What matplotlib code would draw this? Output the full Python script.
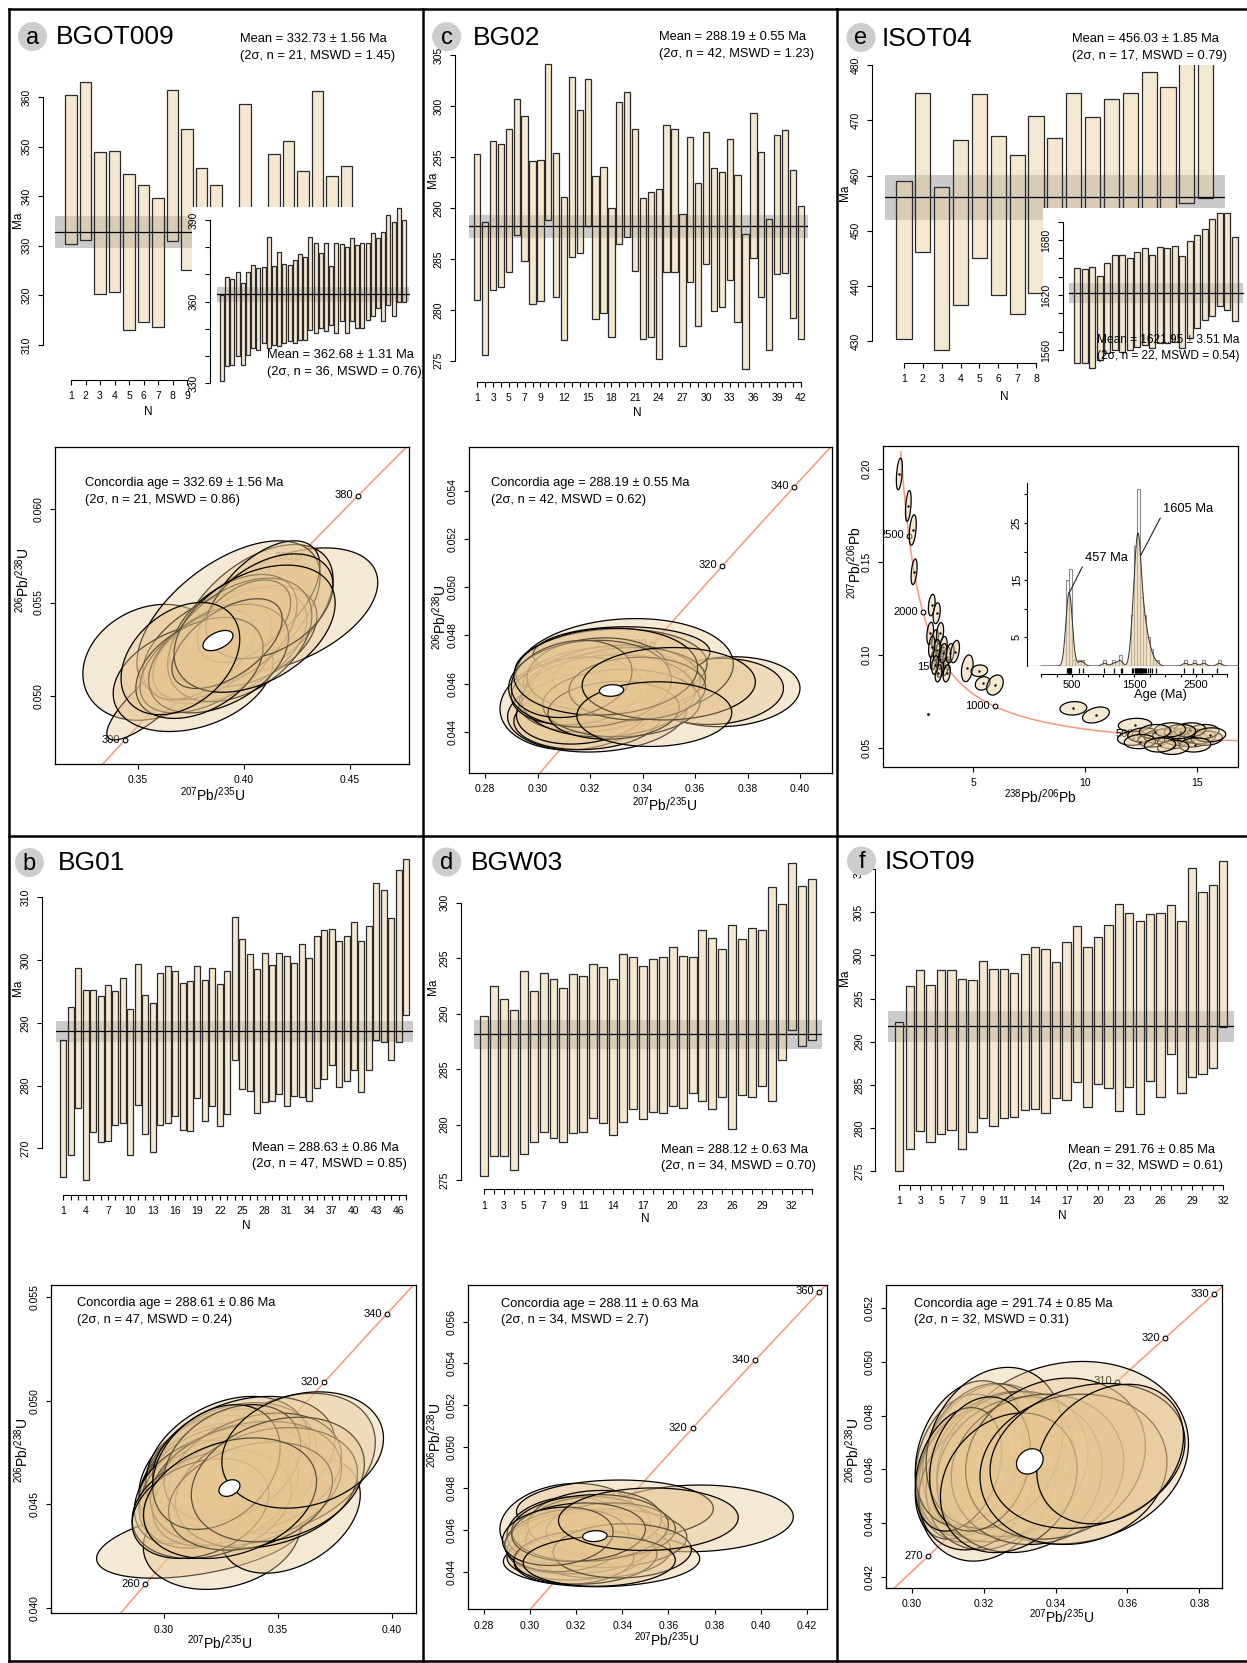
import numpy as np
import matplotlib
matplotlib.use("Agg")
import matplotlib.pyplot as plt
from matplotlib.patches import Circle, Polygon
from matplotlib.lines import Line2D
from matplotlib.transforms import offset_copy

plt.rcParams["font.family"] = ["Liberation Sans", "DejaVu Sans"]
plt.rcParams["mathtext.fontset"] = "custom"
plt.rcParams["mathtext.rm"] = "Liberation Sans"
plt.rcParams["mathtext.it"] = "Liberation Sans:italic"

W, H = 1247, 1663

# ---------------- weighted-mean bars (2 sigma limits, Ma) ----------------
A_TOP = [360.5, 363.0, 348.9, 349.1, 344.4, 342.2, 339.6, 361.4, 353.5, 345.7, 342.2,
         336.0, 358.5, 335.0, 348.6, 351.2, 345.0, 361.3, 344.1, 346.0, 337.0]
A_BOT = [330.3, 331.1, 320.3, 320.7, 313.0, 314.6, 313.7, 330.9, 325.2, 318.0, 316.0,
         308.0, 330.0, 305.0, 322.0, 324.0, 320.0, 334.0, 318.0, 320.0, 310.0]
A_MEAN, A_HALF = 332.73, 3.2

A2_TOP = [362.4, 369.2, 368.2, 370.7, 366.7, 371.0, 373.5, 372.2, 372.6, 383.6, 372.9, 378.1,
          373.8, 373.5, 375.3, 377.5, 376.5, 383.9, 381.4, 378.0, 381.4, 373.1, 381.7, 381.1,
          380.0, 383.3, 380.8, 381.7, 381.4, 385.1, 383.3, 385.7, 391.8, 389.4, 394.3, 390.0]
A2_BOT = [330.6, 336.1, 336.7, 339.8, 336.7, 340.4, 342.9, 342.2, 344.7, 342.9, 344.1, 343.5,
          344.7, 345.3, 344.7, 345.9, 345.9, 349.6, 348.4, 350.2, 349.0, 351.4, 348.4, 352.7,
          348.4, 352.7, 350.2, 350.2, 353.3, 354.5, 357.6, 352.7, 358.8, 354.5, 360.0, 360.0]
A2_MEAN, A2_HALF = 362.68, 2.7

C_TOP = [295.3, 288.6, 296.6, 296.3, 297.7, 300.7, 299.0, 294.6, 294.7, 304.1, 295.4, 291.1,
         302.8, 299.6, 302.6, 293.1, 294.0, 290.0, 300.4, 301.4, 297.7, 291.0, 291.6, 291.9,
         298.1, 297.7, 289.4, 297.0, 292.4, 297.4, 293.9, 293.5, 296.8, 293.2, 287.4, 299.3,
         295.5, 288.9, 297.2, 297.6, 293.7, 290.2]
C_BOT = [281.0, 275.6, 281.9, 282.2, 283.7, 287.3, 284.8, 280.6, 280.9, 288.8, 281.3, 277.0,
         285.2, 285.6, 288.2, 279.1, 279.7, 277.3, 286.5, 287.1, 283.8, 277.1, 277.3, 275.2,
         283.7, 283.7, 276.5, 282.7, 278.4, 284.5, 279.9, 280.3, 282.9, 278.8, 274.2, 285.1,
         281.3, 276.1, 283.5, 283.6, 279.2, 277.1]
C_MEAN, C_HALF = 288.19, 1.1

E_TOP = [459.1, 474.9, 457.9, 466.4, 474.7, 467.1, 463.8, 470.7, 466.8, 475.0, 470.6,
         473.8, 475.0, 478.7, 476.0, 483.0, 484.0]
E_BOT = [430.5, 446.1, 428.5, 436.6, 445.1, 438.4, 435.0, 438.7, 440.0, 448.0, 445.0,
         448.0, 450.0, 453.0, 451.0, 455.0, 456.0]
E_MEAN, E_HALF = 456.03, 4.0

E2_TOP = [1649.1, 1648.0, 1650.9, 1640.7, 1655.3, 1663.6, 1663.6, 1660.0, 1667.3, 1670.9, 1663.6,
          1672.7, 1670.9, 1673.5, 1662.5, 1679.3, 1685.1, 1692.4, 1702.9, 1709.8, 1709.1, 1682.9]
E2_BOT = [1546.2, 1545.5, 1540.0, 1549.0, 1556.4, 1560.0, 1558.2, 1560.0, 1563.6, 1565.5, 1561.8,
          1567.3, 1567.3, 1569.1, 1561.8, 1572.7, 1583.6, 1592.7, 1597.1, 1608.0, 1603.6, 1591.6]
E2_MEAN, E2_HALF = 1621.95, 11.0

B_TOP = [287.2, 292.5, 298.8, 295.3, 295.3, 294.3, 296.0, 295.0, 297.1, 292.2, 299.4, 294.4,
         293.1, 298.0, 299.0, 298.2, 296.4, 296.6, 299.1, 296.9, 298.8, 296.2, 298.2, 306.9,
         303.3, 300.9, 298.5, 301.2, 299.2, 301.2, 300.6, 299.6, 302.6, 300.3, 303.9, 304.8,
         304.9, 303.0, 303.8, 306.0, 303.0, 305.5, 312.2, 311.1, 306.7, 314.4, 316.1]
B_BOT = [265.4, 268.9, 276.4, 265.0, 272.6, 271.0, 271.2, 273.7, 274.1, 268.9, 276.9, 272.2,
         269.4, 273.7, 274.0, 275.2, 272.9, 272.7, 278.0, 274.4, 276.8, 273.6, 275.5, 284.1,
         279.5, 279.2, 275.6, 277.4, 277.6, 278.7, 276.8, 278.4, 278.2, 277.6, 279.6, 281.0,
         283.2, 279.8, 280.7, 282.5, 279.0, 282.5, 287.2, 287.0, 284.0, 286.9, 291.2]
B_MEAN, B_HALF = 288.63, 1.7

D_TOP = [289.8, 292.5, 291.3, 290.3, 293.8, 292.0, 293.7, 293.1, 292.3, 293.6, 293.4, 294.5,
         294.2, 293.1, 295.4, 295.1, 294.3, 294.9, 295.1, 296.0, 295.2, 295.1, 297.5, 296.8,
         295.8, 298.0, 296.7, 297.7, 297.5, 301.4, 299.9, 303.6, 301.5, 302.1]
D_BOT = [275.4, 277.2, 277.2, 275.9, 277.3, 278.4, 279.3, 278.8, 278.4, 279.2, 279.3, 280.6,
         280.1, 279.1, 280.2, 281.4, 280.5, 281.1, 281.0, 281.7, 281.5, 282.8, 282.1, 281.4,
         282.5, 279.6, 282.7, 282.5, 283.5, 282.1, 285.8, 288.5, 287.1, 287.6]
D_MEAN, D_HALF = 288.12, 1.3

F_TOP = [292.3, 296.4, 298.3, 296.6, 298.3, 298.3, 297.3, 297.1, 299.4, 298.4, 298.4, 298.0,
         300.2, 301.0, 300.8, 299.2, 301.6, 303.4, 301.0, 302.1, 303.5, 306.0, 304.9, 304.0,
         304.8, 304.9, 305.9, 304.0, 310.1, 307.4, 308.2, 311.0]
F_BOT = [275.0, 277.6, 279.6, 278.4, 279.3, 279.7, 277.6, 279.5, 281.1, 280.2, 281.1, 281.3,
         282.1, 282.2, 281.7, 283.5, 283.2, 285.3, 282.4, 285.1, 284.6, 282.0, 284.7, 281.6,
         285.4, 283.6, 288.6, 284.0, 285.9, 286.3, 286.9, 291.7]
F_MEAN, F_HALF = 291.76, 1.75

# ---------------- concordia ellipses: (x, sx, y, sy, rho) ----------------
A_ELL = [(0.4181, 0.0450, 0.05457, 0.00335, 0.45), (0.4059, 0.0361, 0.0544, 0.0037, 0.5),
         (0.3563, 0.0323, 0.0518, 0.0031, 0.2), (0.3589, 0.0236, 0.05005, 0.0024, 0.85),
         (0.3927, 0.0432, 0.0541, 0.0042, 0.55), (0.3910, 0.0387, 0.0527, 0.0031, 0.45),
         (0.3760, 0.0377, 0.0510, 0.0029, 0.3), (0.3832, 0.0323, 0.0519, 0.0028, 0.5),
         (0.4028, 0.0316, 0.0532, 0.0027, 0.4), (0.4091, 0.0267, 0.0553, 0.0030, 0.55),
         (0.3850, 0.0280, 0.0524, 0.0026, 0.5), (0.3950, 0.0300, 0.0535, 0.0030, 0.45),
         (0.3800, 0.0250, 0.0522, 0.0024, 0.55), (0.3980, 0.0340, 0.0530, 0.0033, 0.4),
         (0.4000, 0.0220, 0.0540, 0.0022, 0.45), (0.3880, 0.0330, 0.0520, 0.0029, 0.4),
         (0.4120, 0.0300, 0.0548, 0.0028, 0.4), (0.3790, 0.0300, 0.0515, 0.0027, 0.4),
         (0.3920, 0.0260, 0.0528, 0.0024, 0.55), (0.4050, 0.0380, 0.0536, 0.0034, 0.4),
         (0.3700, 0.0280, 0.0520, 0.0030, 0.35)]
C_ELL = [(0.3720, 0.0280, 0.04567, 0.00145, 0.1), (0.3677, 0.0260, 0.04568, 0.00137, 0.1),
         (0.3333, 0.0413, 0.04660, 0.00210, 0.1), (0.3162, 0.0305, 0.04526, 0.00200, 0.15),
         (0.3280, 0.0366, 0.04667, 0.00160, 0.1), (0.3257, 0.0311, 0.04615, 0.00138, 0.1),
         (0.3227, 0.0341, 0.04480, 0.00163, 0.1), (0.3320, 0.0337, 0.04726, 0.00110, 0.05),
         (0.3190, 0.0280, 0.04457, 0.00130, 0.1), (0.3250, 0.0300, 0.04580, 0.00150, 0.1),
         (0.3210, 0.0280, 0.04540, 0.00140, 0.15), (0.3300, 0.0320, 0.04600, 0.00160, 0.1),
         (0.3180, 0.0260, 0.04500, 0.00150, 0.2), (0.3350, 0.0290, 0.04620, 0.00130, 0.05),
         (0.3270, 0.0330, 0.04550, 0.00170, 0.1), (0.3150, 0.0250, 0.04570, 0.00140, 0.15),
         (0.3230, 0.0270, 0.04640, 0.00150, 0.1), (0.3320, 0.0300, 0.04520, 0.00140, 0.05),
         (0.3200, 0.0310, 0.04600, 0.00180, 0.1), (0.3290, 0.0250, 0.04490, 0.00120, 0.1),
         (0.3380, 0.0260, 0.04580, 0.00130, 0.05), (0.3130, 0.0230, 0.04620, 0.00160, 0.2),
         (0.3260, 0.0350, 0.04650, 0.00180, 0.1), (0.3500, 0.0330, 0.04600, 0.00150, 0.05),
         (0.3445, 0.0295, 0.04474, 0.00134, 0.05)]
B_ELL = [(0.3155, 0.0451, 0.04317, 0.00172, 0.45), (0.3254, 0.0345, 0.04346, 0.00255, 0.2),
         (0.3554, 0.0308, 0.04449, 0.00280, 0.35), (0.3536, 0.0392, 0.04698, 0.00337, 0.3),
         (0.3200, 0.0310, 0.04640, 0.00290, 0.3), (0.3250, 0.0340, 0.04660, 0.00300, 0.3),
         (0.3180, 0.0290, 0.04620, 0.00270, 0.35), (0.3300, 0.0370, 0.04680, 0.00310, 0.28),
         (0.3220, 0.0330, 0.04600, 0.00280, 0.3), (0.3150, 0.0260, 0.04580, 0.00260, 0.4),
         (0.3280, 0.0360, 0.04700, 0.00320, 0.3), (0.3350, 0.0400, 0.04720, 0.00300, 0.28),
         (0.3120, 0.0250, 0.04560, 0.00250, 0.35), (0.3240, 0.0300, 0.04590, 0.00240, 0.3),
         (0.3310, 0.0350, 0.04610, 0.00270, 0.25), (0.3190, 0.0280, 0.04520, 0.00230, 0.3),
         (0.3400, 0.0380, 0.04650, 0.00290, 0.28), (0.3270, 0.0320, 0.04560, 0.00260, 0.35),
         (0.3360, 0.0420, 0.04600, 0.00300, 0.25), (0.3210, 0.0350, 0.04500, 0.00260, 0.28),
         (0.3300, 0.0300, 0.04700, 0.00280, 0.3), (0.3450, 0.0400, 0.04580, 0.00290, 0.25),
         (0.3160, 0.0300, 0.04480, 0.00240, 0.3), (0.3380, 0.0360, 0.04540, 0.00260, 0.28),
         (0.3230, 0.0280, 0.04680, 0.00300, 0.3), (0.3500, 0.0380, 0.04620, 0.00300, 0.25),
         (0.3290, 0.0380, 0.04530, 0.00290, 0.28), (0.3609, 0.0355, 0.04762, 0.00280, 0.2)]
D_ELL = [(0.3715, 0.0427, 0.04656, 0.00160, 0.05), (0.3310, 0.0426, 0.04456, 0.00128, 0.05),
         (0.3173, 0.0304, 0.04624, 0.00200, 0.1), (0.3368, 0.0427, 0.04696, 0.00144, 0.05),
         (0.3230, 0.0300, 0.04560, 0.00140, 0.1), (0.3180, 0.0280, 0.04520, 0.00130, 0.15),
         (0.3270, 0.0320, 0.04580, 0.00150, 0.1), (0.3200, 0.0300, 0.04480, 0.00120, 0.1),
         (0.3300, 0.0310, 0.04500, 0.00130, 0.05), (0.3150, 0.0250, 0.04600, 0.00160, 0.15),
         (0.3250, 0.0270, 0.04620, 0.00140, 0.1), (0.3220, 0.0330, 0.04540, 0.00150, 0.1),
         (0.3330, 0.0350, 0.04560, 0.00140, 0.05), (0.3190, 0.0260, 0.04460, 0.00120, 0.1),
         (0.3280, 0.0290, 0.04640, 0.00150, 0.1), (0.3350, 0.0280, 0.04600, 0.00130, 0.05),
         (0.3160, 0.0270, 0.04550, 0.00150, 0.15), (0.3240, 0.0310, 0.04470, 0.00130, 0.1),
         (0.3260, 0.0340, 0.04610, 0.00160, 0.1), (0.3400, 0.0300, 0.04500, 0.00130, 0.05),
         (0.3210, 0.0290, 0.04590, 0.00140, 0.1), (0.3120, 0.0240, 0.04570, 0.00140, 0.15),
         (0.3300, 0.0330, 0.04450, 0.00120, 0.05), (0.3513, 0.0390, 0.04652, 0.00150, 0.05)]
F_ELL = [(0.3211, 0.0197, 0.04588, 0.0033, 0.2), (0.3443, 0.0327, 0.04662, 0.0034, 0.1),
         (0.3186, 0.0172, 0.04578, 0.0025, 0.2), (0.3150, 0.0140, 0.04620, 0.0026, 0.2),
         (0.3170, 0.0150, 0.04600, 0.0025, 0.25), (0.3200, 0.0170, 0.04640, 0.0028, 0.2),
         (0.3140, 0.0130, 0.04580, 0.0024, 0.3), (0.3220, 0.0180, 0.04560, 0.0026, 0.15),
         (0.3250, 0.0200, 0.04610, 0.0028, 0.2), (0.3180, 0.0160, 0.04540, 0.0024, 0.2),
         (0.3280, 0.0210, 0.04620, 0.0027, 0.15), (0.3160, 0.0150, 0.04660, 0.0027, 0.25),
         (0.3300, 0.0230, 0.04580, 0.0029, 0.1), (0.3230, 0.0190, 0.04680, 0.0030, 0.2),
         (0.3350, 0.0240, 0.04600, 0.0028, 0.1), (0.3130, 0.0120, 0.04600, 0.0023, 0.3),
         (0.3400, 0.0250, 0.04640, 0.0030, 0.15), (0.3190, 0.0140, 0.04620, 0.0025, 0.2),
         (0.3270, 0.0190, 0.04550, 0.0026, 0.2), (0.3450, 0.0260, 0.04600, 0.0028, 0.1),
         (0.3489, 0.0271, 0.04650, 0.0027, 0.2), (0.3552, 0.0204, 0.04657, 0.0026, 0.25)]
# white concordia-age ellipses: (age Ma, sx, sy, rho)
A_CA = (332.69, 0.0071, 0.00054, 0.5)
C_CA = (288.19, 0.0046, 0.00024, 0.1)
B_CA = (288.61, 0.0046, 0.00040, 0.3)
D_CA = (288.11, 0.0053, 0.00026, 0.1)
F_CA = (291.74, 0.0037, 0.00047, 0.2)

# Tera-Wasserburg ellipses (238/206, s, 207/206, s, rho)
E_ELL = [(1.69, 0.134, 0.1975, 0.0085, 0.4), (2.09, 0.127, 0.1803, 0.0083, 0.4),
         (2.29, 0.157, 0.1674, 0.0082, 0.4), (2.35, 0.134, 0.1449, 0.0069, 0.4),
         (3.14, 0.15, 0.1270, 0.0058, 0.3), (3.36, 0.16, 0.1226, 0.0056, 0.3),
         (3.07, 0.15, 0.1118, 0.0060, 0.3), (3.29, 0.15, 0.1082, 0.0055, 0.3),
         (3.51, 0.16, 0.1118, 0.0058, 0.3), (3.66, 0.17, 0.1046, 0.0055, 0.3),
         (3.44, 0.15, 0.1011, 0.0054, 0.3), (3.22, 0.14, 0.0975, 0.0052, 0.3),
         (3.59, 0.16, 0.0975, 0.0050, 0.3), (3.81, 0.17, 0.0993, 0.0050, 0.3),
         (3.73, 0.16, 0.0939, 0.0048, 0.3), (3.51, 0.15, 0.0930, 0.0048, 0.3),
         (3.96, 0.18, 0.1011, 0.0052, 0.3), (4.18, 0.20, 0.1020, 0.0060, 0.4),
         (3.36, 0.15, 0.1029, 0.0055, 0.3), (3.14, 0.14, 0.1046, 0.0057, 0.3),
         (3.81, 0.16, 0.0903, 0.0046, 0.3), (3.44, 0.15, 0.0903, 0.0046, 0.3),
         (3.66, 0.16, 0.1011, 0.0052, 0.3), (3.29, 0.15, 0.0948, 0.0050, 0.3),
         (4.73, 0.26, 0.0930, 0.0072, 0.3), (5.27, 0.37, 0.0917, 0.0031, 0.1),
         (5.42, 0.33, 0.0849, 0.0036, 0.2), (5.97, 0.37, 0.0840, 0.0054, 0.3),
         (9.48, 0.60, 0.0715, 0.0036, 0.1), (10.49, 0.60, 0.0679, 0.0043, 0.35),
         (12.24, 0.75, 0.0625, 0.0036, 0.1), (12.16, 0.70, 0.0554, 0.0038, 0.1),
         (12.61, 0.70, 0.0572, 0.0038, 0.1), (13.06, 0.70, 0.0545, 0.0038, 0.1),
         (13.36, 0.70, 0.0563, 0.0038, 0.1), (13.73, 0.70, 0.0572, 0.0038, 0.1),
         (13.95, 0.70, 0.0536, 0.0038, 0.1), (14.25, 0.70, 0.0554, 0.0038, 0.1),
         (14.55, 0.70, 0.0572, 0.0038, 0.1), (14.85, 0.70, 0.0545, 0.0038, 0.1),
         (15.15, 0.70, 0.0563, 0.0038, 0.1), (15.45, 0.70, 0.0554, 0.0038, 0.1),
         (15.30, 0.70, 0.0590, 0.0038, 0.1), (14.70, 0.70, 0.0599, 0.0038, 0.1),
         (14.25, 0.70, 0.0590, 0.0038, 0.1), (13.80, 0.70, 0.0599, 0.0038, 0.1),
         (13.13, 0.70, 0.0590, 0.0038, 0.1), (12.46, 0.70, 0.0536, 0.0038, 0.1),
         (15.60, 0.70, 0.0572, 0.0038, 0.1), (14.93, 0.70, 0.0518, 0.0038, 0.1),
         (13.95, 0.70, 0.0505, 0.0038, 0.1), (13.36, 0.70, 0.0518, 0.0038, 0.1)]
E_LONE = (2.96, 0.0683)

# detrital age histogram (bin left edge, count) and rug
KDE_BW = 50
KDE_LEFT = [400, 450, 500, 600, 650, 1000, 1150, 1250, 1450, 1500, 1550, 1600, 1650,
            1700, 1750, 1800, 1850, 2300, 2450, 2600, 2850]
KDE_COUNT = [15, 17, 1, 1, 1, 1, 1, 2, 9, 21, 31, 12, 9, 5, 3, 1, 1, 1, 1, 1, 1]
RUG_AGES = [425, 435, 440, 445, 450, 455, 458, 462, 466, 470, 475, 480, 610, 680, 1010, 1170,
            1290, 1310, 1470, 1490, 1510, 1520, 1530, 1540, 1550, 1560, 1570, 1580, 1590,
            1600, 1610, 1620, 1635, 1650, 1665, 1680, 1700, 1720, 1750, 1790, 1860, 2300,
            2450, 2600, 2840]
PEAKS = [457, 1605]

BAR_FC = (0.914, 0.808, 0.624, 0.45)
BAR_EC = "#2a2a2a"
BAND_C = "#cbcbcb"
ELL_FC = (0.90, 0.78, 0.58, 0.40)
CONC_C = "#f7987c"
L238, L235 = 1.55125e-4, 9.8485e-4


def pax(fig, box, **kw):
    l, t, r, b = box
    return fig.add_axes([l / W, 1 - b / H, (r - l) / W, (b - t) / H], **kw)


def lin(cal, pa, pb):
    p0, v0, p1, v1 = cal
    s = (v1 - v0) / (p1 - p0)
    return v0 + (pa - p0) * s, v0 + (pb - p0) * s


def ftext(fig, x, y, s, **kw):
    kw.setdefault("ha", "center")
    kw.setdefault("va", "center")
    kw.setdefault("zorder", 10)
    fig.text(x / W, 1 - y / H, s, **kw)


def ell_pts(x, sx, y, sy, rho, n=120):
    cov = np.array([[sx * sx, rho * sx * sy], [rho * sx * sy, sy * sy]])
    low = np.linalg.cholesky(cov)
    t = np.linspace(0, 2 * np.pi, n)
    p = low @ np.vstack([np.cos(t), np.sin(t)])
    return np.column_stack([x + p[0], y + p[1]])


def bar_panel(fig, box, xcal, ycal, tops, bots, mean, half, yticks, ylabels, yspine,
              xticks=None, xlabels=None, inset=False, zorder=1):
    l, t, r, b = box
    ax = pax(fig, box, zorder=zorder)
    ax.set_xlim(lin(xcal, l, r))
    ax.set_ylim(lin(ycal, b, t))
    n = len(tops)
    bx = (0, n + 1) if inset else ax.get_xlim()
    ax.fill_between(bx, mean - half, mean + half, color=BAND_C, lw=0, zorder=1)
    ax.bar(np.arange(1, n + 1), np.subtract(tops, bots), bottom=bots, width=0.8,
           facecolor=BAR_FC, edgecolor=BAR_EC, linewidth=0.9, zorder=2)
    ax.plot(bx, [mean, mean], color="black", lw=0.9, zorder=3)
    for s in ("top", "right"):
        ax.spines[s].set_visible(False)
    ax.spines["left"].set_bounds(yticks[0], yticks[-1])
    ax.spines["left"].set_position(yspine)
    ax.set_yticks(yticks, ylabels, rotation=90, va="center")
    if xticks is None:
        ax.spines["bottom"].set_visible(False)
        ax.set_xticks([])
    else:
        ax.spines["bottom"].set_bounds(xticks[0], xticks[-1])
        ax.set_xticks(xticks, xlabels)
    for sp in ax.spines.values():
        sp.set_linewidth(0.8)
    ax.tick_params(direction="out", length=3.6, width=0.8, labelsize=7.5, pad=4.5)
    return ax


def frame(ax, xt, xtl, yt, ytl):
    ax.set_xticks(xt, xtl)
    ax.set_yticks(yt, ytl, rotation=90, va="center")
    for sp in ax.spines.values():
        sp.set_linewidth(0.9)
    ax.tick_params(direction="out", length=3.6, width=0.8, labelsize=7.5, pad=4.5)


def age_marks(fig, ax, xs, ys, ages):
    ax.plot(xs, ys, "o", mfc="white", mec="black", ms=3.4, mew=0.8, zorder=2)
    tr = offset_copy(ax.transData, fig=fig, x=-3.5, y=0.3, units="points")
    for x, y, a in zip(xs, ys, ages):
        ax.text(x, y, str(a), transform=tr, ha="right", va="center", fontsize=8,
                zorder=2, clip_on=True)


def wetherill(fig, box, xcal, ycal, xt, xtl, yt, ytl, ells, ca, marks):
    l, t, r, b = box
    ax = pax(fig, box)
    ax.set_xlim(lin(xcal, l, r))
    ax.set_ylim(lin(ycal, b, t))
    tt = np.linspace(150, 450, 400)
    ax.plot(np.expm1(L235 * tt), np.expm1(L238 * tt), color=CONC_C, lw=1.1, zorder=1)
    marks = np.array(marks, dtype=float)
    age_marks(fig, ax, np.expm1(L235 * marks), np.expm1(L238 * marks), marks.astype(int))
    for x, sx, y, sy, rho in ells:
        ax.add_patch(Polygon(ell_pts(x, sx, y, sy, rho), closed=True, fc=ELL_FC,
                             ec="black", lw=0.9, zorder=3))
    age, sx, sy, rho = ca
    ax.add_patch(Polygon(ell_pts(np.expm1(L235 * age), sx, np.expm1(L238 * age), sy, rho),
                         closed=True, fc="white", ec="black", lw=0.9, zorder=4))
    frame(ax, xt, xtl, yt, ytl)
    return ax


fig = plt.figure(figsize=(W / 100, H / 100), dpi=100)


def ticks(a, b, step):
    return list(np.arange(a, b + step / 2, step))


def xlabs(n, shown):
    return [str(i) if i in shown else "" for i in range(1, n + 1)]


OUT = lambda px: ("outward", px * 0.72)

# ---- panel a ----
r = ticks(310, 360, 10)
bar_panel(fig, (55, 70, 380, 380), (71, 1, 187, 9), (97, 360, 345, 310), A_TOP, A_BOT,
          A_MEAN, A_HALF, r, [str(int(v)) for v in r], OUT(12),
          xticks=list(range(1, 10)), xlabels=[str(i) for i in range(1, 10)])
r = ticks(330, 390, 10)
bar_panel(fig, (192, 207, 420, 398), (222, 1, 404, 36), (220, 390, 383, 330), A2_TOP, A2_BOT,
          A2_MEAN, A2_HALF, r, ["330", "", "", "360", "", "", "390"],
          ("axes", 18 / 228), inset=True, zorder=2)
wetherill(fig, (55, 447, 409, 764), (138, 0.35, 350, 0.45), (509, 0.060, 696, 0.050),
          [0.35, 0.40, 0.45], ["0.35", "0.40", "0.45"], [0.050, 0.055, 0.060],
          ["0.050", "0.055", "0.060"], A_ELL, A_CA, [300, 320, 340, 360, 380])

# ---- panel c ----
r = ticks(275, 305, 5)
bar_panel(fig, (469, 55, 808, 382), (477.3, 1, 800.7, 42), (53.3, 305, 360.7, 275), C_TOP,
          C_BOT, C_MEAN, C_HALF, r, [str(int(v)) for v in r], OUT(14),
          xticks=list(range(1, 43)),
          xlabels=xlabs(42, [1, 3, 5, 7, 9, 12, 15, 18, 21, 24, 27, 30, 33, 36, 39, 42]))
wetherill(fig, (469, 447, 832, 773), (485, 0.28, 800, 0.40), (490.7, 0.054, 732, 0.044),
          ticks(0.28, 0.40, 0.02), ["0.28", "0.30", "0.32", "0.34", "0.36", "0.38", "0.40"],
          ticks(0.044, 0.054, 0.002), ["0.044", "0.046", "0.048", "0.050", "0.052", "0.054"],
          C_ELL, C_CA, [280, 300, 320, 340])

# ---- panel e ----
r = ticks(430, 480, 10)
bar_panel(fig, (885, 65, 1225, 363), (904, 1, 1036, 8), (60, 480, 341, 430), E_TOP, E_BOT,
          E_MEAN, E_HALF, r, [str(int(v)) for v in r], OUT(13),
          xticks=list(range(1, 9)), xlabels=[str(i) for i in range(1, 9)])
r = ticks(1560, 1700, 20)
bar_panel(fig, (1043, 208, 1247, 372), (1077, 1, 1235, 22), (240, 1680, 295, 1620), E2_TOP,
          E2_BOT, E2_MEAN, E2_HALF, r, ["1560", "", "", "1620", "", "", "1680", ""],
          ("axes", 19.7 / 204), inset=True, zorder=2)

ax = pax(fig, (883, 446, 1238, 767))
ax.set_xlim(lin((973.3, 5, 1196.7, 15), 883, 1238))
ax.set_ylim(lin((469.3, 0.20, 748.3, 0.05), 767, 446))
tt = np.linspace(300, 2900, 600)
ax.plot(1 / np.expm1(L238 * tt), np.expm1(L235 * tt) / np.expm1(L238 * tt) / 137.818,
        color=CONC_C, lw=1.1, zorder=1)
mk = np.array([500, 1000, 1500, 2000, 2500], dtype=float)
age_marks(fig, ax, 1 / np.expm1(L238 * mk), np.expm1(L235 * mk) / np.expm1(L238 * mk) / 137.818,
          mk.astype(int))
for x, sx, y, sy, rho in E_ELL:
    ax.add_patch(Polygon(ell_pts(x, sx, y, sy, rho), closed=True, fc=BAR_FC, ec="black",
                         lw=0.9, zorder=3))
    ax.plot([x], [y], ".", color="black", ms=1.5, zorder=3)
ax.plot([E_LONE[0]], [E_LONE[1]], ".", color="black", ms=2, zorder=3)
frame(ax, [5, 10, 15], ["5", "10", "15"], [0.05, 0.10, 0.15, 0.20],
      ["0.05", "0.10", "0.15", "0.20"])

kx = pax(fig, (1030, 470, 1238, 666), zorder=3)
kx.patch.set_alpha(0)
kx.set_xlim(lin((1041, 0, 1227, 3000), 1030, 1238))
kx.set_ylim(lin((666, 0, 523, 25), 666, 470))
kx.bar(KDE_LEFT, KDE_COUNT, width=KDE_BW, align="edge", facecolor=(1, 1, 1, 0.3),
       edgecolor="#8c8c8c", lw=0.8, zorder=1)
grid = np.linspace(0, 3200, 900)
centres = np.array(KDE_LEFT) + KDE_BW / 2
bw = 42.0


def kde(g):
    g = np.atleast_1d(g)[:, None]
    k = np.exp(-0.5 * ((g - centres) / bw) ** 2) / (bw * np.sqrt(2 * np.pi))
    return (k * np.array(KDE_COUNT) * KDE_BW).sum(axis=1)


dens = kde(grid)
kx.fill_between(grid, 0, dens, color=(0.91, 0.80, 0.62, 0.55), lw=0, zorder=2)
kx.plot(grid, dens, color="#303030", lw=0.7, zorder=3)
kx.axhline(0, color="#303030", lw=0.8, zorder=3)
kx.vlines(RUG_AGES, -1.25, -0.35, color="black", lw=0.9, clip_on=False)
for pk, pos in zip(PEAKS, [(710, 18.9), (1968, 27.4)]):
    kx.annotate(f"{pk} Ma", xy=(pk, kde(pk)[0]), xytext=pos, fontsize=9.3, ha="left",
                va="center", arrowprops=dict(arrowstyle="-", lw=0.8, color="#202020",
                                             relpos=(0, 0.2), shrinkA=0, shrinkB=0))
for s in ("top", "right"):
    kx.spines[s].set_visible(False)
kx.spines["left"].set_bounds(0, 32)
kx.spines["left"].set_position(("outward", 2))
kx.spines["bottom"].set_bounds(0, 3000)
kx.spines["bottom"].set_position(("outward", 8 * 0.72))
kx.set_xticks(ticks(0, 3000, 250), ["" if v not in (500, 1500, 2500) else str(int(v))
                                     for v in ticks(0, 3000, 250)])
kx.set_yticks(ticks(5, 30, 5), ["5", "", "15", "", "25", ""], rotation=90, va="center")
for sp in kx.spines.values():
    sp.set_linewidth(0.8)
kx.tick_params(direction="out", length=2.5, width=0.8, labelsize=8, pad=1.5)

# ---- panel b ----
r = ticks(270, 310, 10)
bar_panel(fig, (56, 855, 413, 1195), (63.3, 1, 398.7, 46), (897.3, 310, 1148.3, 270), B_TOP,
          B_BOT, B_MEAN, B_HALF, r, [str(int(v)) for v in r], OUT(14),
          xticks=list(range(1, 48)), xlabels=xlabs(47, list(range(1, 47, 3))))
wetherill(fig, (51, 1285, 415.7, 1613.3), (164, 0.30, 391.7, 0.40),
          (1296.7, 0.055, 1608.3, 0.040), [0.30, 0.35, 0.40], ["0.30", "0.35", "0.40"],
          [0.040, 0.045, 0.050, 0.055], ["0.040", "0.045", "0.050", "0.055"],
          B_ELL, B_CA, [260, 280, 300, 320, 340])

# ---- panel d ----
r = ticks(275, 300, 5)
sh = [1, 3, 5, 7, 9, 11, 14, 17, 20, 23, 26, 29, 32]
bar_panel(fig, (474, 858, 821.7, 1189.3), (484, 1, 811.7, 34), (902.7, 300, 1180, 275), D_TOP,
          D_BOT, D_MEAN, D_HALF, r, [str(int(v)) for v in r], OUT(13),
          xticks=list(range(1, 35)), xlabels=xlabs(34, sh))
wetherill(fig, (467.7, 1285, 827.3, 1609.3), (484, 0.28, 806.7, 0.42),
          (1321.7, 0.056, 1571.7, 0.044), ticks(0.28, 0.42, 0.02),
          ["0.28", "0.30", "0.32", "0.34", "0.36", "0.38", "0.40", "0.42"],
          ticks(0.044, 0.056, 0.002),
          ["0.044", "0.046", "0.048", "0.050", "0.052", "0.054", "0.056"],
          D_ELL, D_CA, [280, 300, 320, 340, 360])

# ---- panel f ----
r = ticks(275, 310, 5)
bar_panel(fig, (888.3, 856, 1234, 1185), (899.3, 1, 1223.3, 32), (912.3, 305, 1171, 275), F_TOP,
          F_BOT, F_MEAN, F_HALF, r, [str(int(v)) for v in r], OUT(13),
          xticks=list(range(1, 33)), xlabels=xlabs(32, sh))
wetherill(fig, (886, 1285, 1222, 1587.7), (911.7, 0.30, 1199.3, 0.38),
          (1308.3, 0.052, 1576.7, 0.042), ticks(0.30, 0.38, 0.02),
          ["0.30", "0.32", "0.34", "0.36", "0.38"], ticks(0.042, 0.052, 0.002),
          ["0.042", "0.044", "0.046", "0.048", "0.050", "0.052"],
          F_ELL, F_CA, [270, 280, 290, 300, 310, 320, 330])

# ---- texts ----
PB76 = r"$^{206}$Pb/$^{238}$U"
PB75 = r"$^{207}$Pb/$^{235}$U"
for x, y in [(213, 795), (665, 805), (220, 1643), (667, 1640), (1062, 1617)]:
    ftext(fig, x, y, PB75, fontsize=10)
for x, y in [(23, 580), (440, 617), (22, 1450), (435, 1435), (853, 1450)]:
    ftext(fig, x, y, PB76, fontsize=10, rotation=90)
ftext(fig, 1040, 797, r"$^{238}$Pb/$^{206}$Pb", fontsize=10)
ftext(fig, 855, 563, r"$^{207}$Pb/$^{206}$Pb", fontsize=10, rotation=90)
ftext(fig, 1160, 695, "Age (Ma)", fontsize=9.3)

for x, y in [(18, 220), (433, 180), (845, 193), (18, 988), (433, 987), (845, 978)]:
    ftext(fig, x, y, "Ma", fontsize=8.5, rotation=90)
for x, y in [(148, 412), (637, 413), (1004, 397), (246, 1226), (645, 1219), (1062, 1216)]:
    ftext(fig, x, y, "N", fontsize=8.5)

MEANS = [((240, 39), "Mean = 332.73 ± 1.56 Ma", "(2σ, n = 21, MSWD = 1.45)", 9.3),
         ((267, 355), "Mean = 362.68 ± 1.31 Ma", "(2σ, n = 36, MSWD = 0.76)", 9.3),
         ((659, 37), "Mean = 288.19 ± 0.55 Ma", "(2σ, n = 42, MSWD = 1.23)", 9.3),
         ((1072, 39), "Mean = 456.03 ± 1.85 Ma", "(2σ, n = 17, MSWD = 0.79)", 9.3),
         ((1097, 340), "Mean = 1621.95 ± 3.51 Ma", "(2σ, n = 22, MSWD = 0.54)", 8.6),
         ((252, 1148), "Mean = 288.63 ± 0.86 Ma", "(2σ, n = 47, MSWD = 0.85)", 9.3),
         ((661, 1150), "Mean = 288.12 ± 0.63 Ma", "(2σ, n = 34, MSWD = 0.70)", 9.3),
         ((1068, 1150), "Mean = 291.76 ± 0.85 Ma", "(2σ, n = 32, MSWD = 0.61)", 9.3),
         ((85, 483), "Concordia age = 332.69 ± 1.56 Ma", "(2σ, n = 21, MSWD = 0.86)", 9.3),
         ((491, 483), "Concordia age = 288.19 ± 0.55 Ma", "(2σ, n = 42, MSWD = 0.62)", 9.3),
         ((77, 1303), "Concordia age = 288.61 ± 0.86 Ma", "(2σ, n = 47, MSWD = 0.24)", 9.3),
         ((501, 1304), "Concordia age = 288.11 ± 0.63 Ma", "(2σ, n = 34, MSWD = 2.7)", 9.3),
         ((914, 1304), "Concordia age = 291.74 ± 0.85 Ma", "(2σ, n = 32, MSWD = 0.31)", 9.3)]
for (x, y), l1, l2, fs in MEANS:
    ftext(fig, x, y, l1, fontsize=fs, ha="left")
    ftext(fig, x, y + 16.5, l2, fontsize=fs, ha="left")

TITLES = [("a", "BGOT009", (32.5, 36.5), 56), ("c", "BG02", (446.7, 36.7), 472.7),
          ("e", "ISOT04", (861, 37.5), 881.7), ("b", "BG01", (29.5, 862.5), 58.3),
          ("d", "BGW03", (446.7, 862), 470.7), ("f", "ISOT09", (861.5, 861), 885)]
for letter, name, (cx, cy), tx in TITLES:
    fig.add_artist(Circle((cx / 100, (H - cy) / 100), 14.5 / 100, transform=fig.dpi_scale_trans,
                          fc="#cdcdcd", ec="none", zorder=9))
    ftext(fig, cx, cy + 1, letter, fontsize=17)
    ftext(fig, tx, cy + 1, name, fontsize=19, ha="left")

for x0, y0, x1, y1 in [(9, 9, 1247, 9), (9, 836, 1247, 836), (9, 1661, 1247, 1661),
                       (9, 9, 9, 1661), (423, 9, 423, 1661), (837, 9, 837, 1661)]:
    fig.add_artist(Line2D([x0 / W, x1 / W], [1 - y0 / H, 1 - y1 / H], transform=fig.transFigure,
                          color="black", lw=1.8, zorder=11))

fig.savefig("out.png", dpi=100)
